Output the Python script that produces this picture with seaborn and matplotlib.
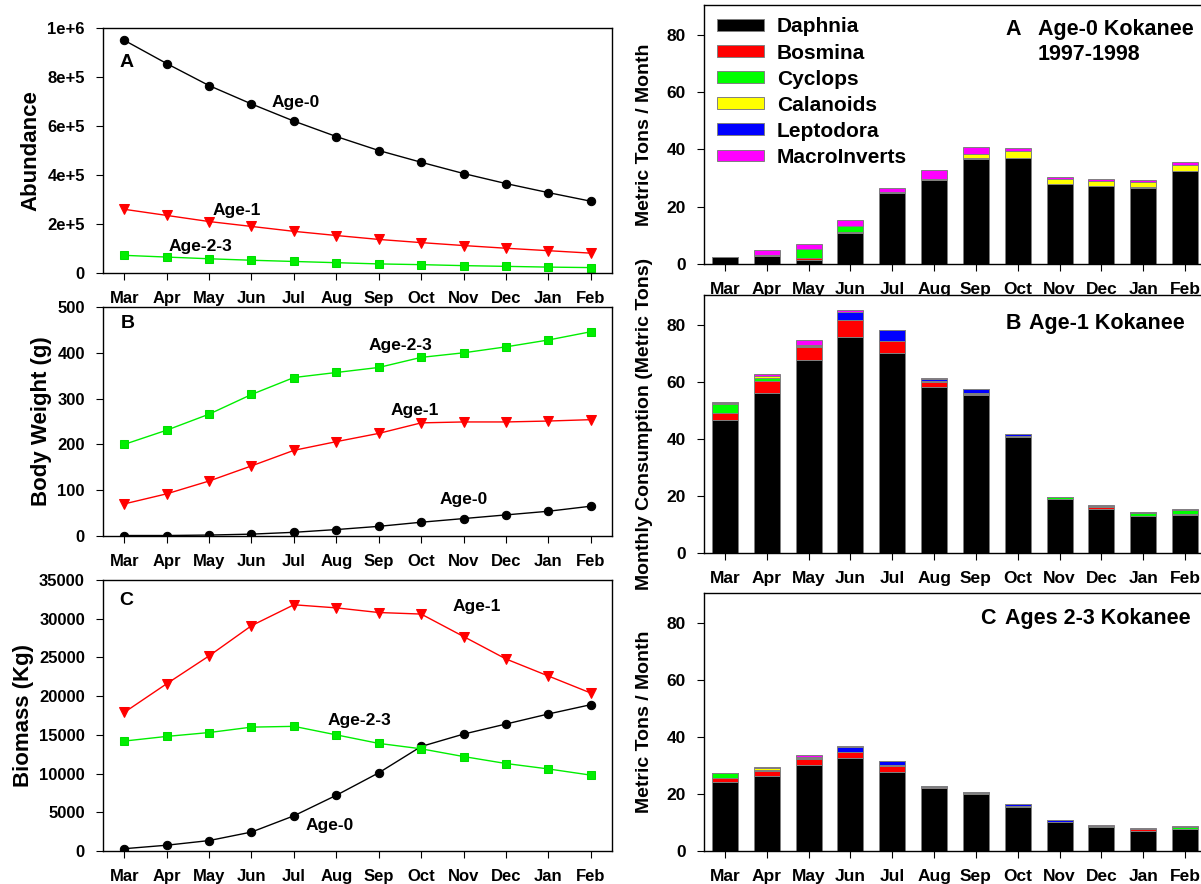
import numpy as np
import matplotlib
matplotlib.use("Agg")
import matplotlib.pyplot as plt
import seaborn as sns

sns.set_style("ticks")
plt.rcParams['font.family'] = ['Liberation Sans', 'DejaVu Sans']
plt.rcParams['font.weight'] = 'bold'
plt.rcParams['axes.labelweight'] = 'bold'
plt.rcParams['axes.linewidth'] = 1.0
for key in ['text.color', 'axes.labelcolor', 'xtick.color', 'ytick.color', 'axes.edgecolor']:
    plt.rcParams[key] = 'black'

months = ["Mar", "Apr", "May", "Jun", "Jul", "Aug", "Sep", "Oct", "Nov", "Dec", "Jan", "Feb"]

# abundance (number of fish)
abund_age0 = [950000, 855000, 765000, 690000, 620000, 557000, 500000, 452000, 406000, 365000, 328000, 293000]
abund_age1 = [260000, 235000, 210000, 190000, 170000, 153000, 137000, 124000, 112000, 101000, 91000, 81000]
abund_age23 = [72000, 65000, 58000, 52000, 47000, 42000, 37000, 34000, 30000, 27000, 24000, 22000]

# body weight (g)
wt_age0 = [1, 1, 2, 4, 8, 14, 21, 30, 38, 46, 54, 65]
wt_age1 = [70, 92, 120, 153, 187, 206, 224, 247, 249, 249, 251, 254]
wt_age23 = [200, 231, 266, 309, 346, 357, 368, 390, 400, 413, 428, 446]

# biomass (kg)
bio_age0 = [300, 750, 1350, 2450, 4550, 7200, 10100, 13500, 15100, 16400, 17700, 18900]
bio_age1 = [17900, 21600, 25200, 29100, 31800, 31400, 30800, 30600, 27700, 24800, 22600, 20400]
bio_age23 = [14200, 14800, 15300, 16000, 16100, 15000, 13900, 13200, 12200, 11300, 10600, 9800]

prey = ["Daphnia", "Bosmina", "Cyclops", "Calanoids", "Leptodora", "MacroInverts"]
prey_colors = ["#000000", "#FF0000", "#00FF00", "#FFFF00", "#0000FF", "#FF00FF"]

# monthly consumption (metric tons), age-0
cons0_daphnia = [2.3, 2.9, 1.4, 10.7, 24.7, 29.4, 36.7, 37.0, 27.9, 27.2, 26.6, 32.4]
cons0_bosmina = [0.0, 0.0, 0.6, 0.3, 0.0, 0.0, 0.0, 0.0, 0.0, 0.0, 0.0, 0.0]
cons0_cyclops = [0.0, 0.0, 3.1, 2.4, 0.0, 0.0, 0.3, 0.0, 0.0, 0.0, 0.3, 0.0]
cons0_calanoids = [0.0, 0.1, 0.0, 0.0, 0.0, 0.4, 1.5, 2.4, 1.8, 1.8, 1.6, 2.3]
cons0_leptodora = [0.0, 0.0, 0.0, 0.0, 0.3, 0.0, 0.0, 0.0, 0.0, 0.0, 0.0, 0.0]
cons0_macro = [0.3, 1.8, 1.8, 1.8, 1.6, 2.9, 2.2, 0.9, 0.8, 0.8, 0.7, 0.9]

# age-1
cons1_daphnia = [46.7, 56.1, 67.5, 75.8, 70.0, 58.2, 55.5, 40.6, 18.9, 15.5, 13.1, 13.3]
cons1_bosmina = [2.3, 4.1, 4.8, 5.7, 4.3, 1.7, 0.3, 0.0, 0.0, 0.6, 0.0, 0.5]
cons1_cyclops = [3.1, 1.0, 0.4, 0.2, 0.0, 0.0, 0.2, 0.0, 0.6, 0.4, 0.8, 1.2]
cons1_calanoids = [0.4, 0.7, 0.3, 0.0, 0.0, 0.4, 0.0, 0.4, 0.0, 0.0, 0.0, 0.0]
cons1_leptodora = [0.0, 0.0, 0.0, 2.7, 3.7, 0.7, 1.3, 0.7, 0.3, 0.0, 0.5, 0.0]
cons1_macro = [0.3, 0.7, 1.8, 0.9, 0.0, 0.3, 0.0, 0.0, 0.0, 0.3, 0.0, 0.3]

# ages 2-3
cons23_daphnia = [24.1, 26.2, 30.0, 32.7, 27.8, 22.0, 19.9, 15.5, 10.0, 8.3, 7.0, 7.6]
cons23_bosmina = [1.4, 2.0, 2.1, 2.1, 2.0, 0.4, 0.0, 0.0, 0.2, 0.0, 0.6, 0.0]
cons23_cyclops = [1.7, 0.2, 0.5, 0.0, 0.0, 0.0, 0.0, 0.4, 0.0, 0.5, 0.0, 0.7]
cons23_calanoids = [0.3, 0.7, 0.2, 0.0, 0.2, 0.0, 0.4, 0.0, 0.0, 0.0, 0.0, 0.0]
cons23_leptodora = [0.0, 0.0, 0.0, 1.8, 1.4, 0.5, 0.5, 0.4, 0.5, 0.0, 0.0, 0.0]
cons23_macro = [0.0, 0.4, 0.7, 0.3, 0.0, 0.0, 0.0, 0.0, 0.0, 0.4, 0.3, 0.3]

cons_age0 = [cons0_daphnia, cons0_bosmina, cons0_cyclops, cons0_calanoids, cons0_leptodora, cons0_macro]
cons_age1 = [cons1_daphnia, cons1_bosmina, cons1_cyclops, cons1_calanoids, cons1_leptodora, cons1_macro]
cons_age23 = [cons23_daphnia, cons23_bosmina, cons23_cyclops, cons23_calanoids, cons23_leptodora, cons23_macro]

xpos = np.arange(len(months))
fig = plt.figure(figsize=(12.01, 8.84), dpi=100)

# left column: line panels
axL = [fig.add_axes([0.0858, 0.6912, 0.4238, 0.2771]),
       fig.add_axes([0.0858, 0.3937, 0.4238, 0.2590]),
       fig.add_axes([0.0858, 0.0373, 0.4238, 0.3066])]


def line_panel(ax, y0, y1, y23):
    sns.lineplot(x=xpos, y=y0, ax=ax, color="black", marker="o", markersize=6,
                 markeredgecolor="black", linewidth=1)
    sns.lineplot(x=xpos, y=y1, ax=ax, color="red", marker="v", markersize=7,
                 markeredgecolor="red", linewidth=1)
    sns.lineplot(x=xpos, y=y23, ax=ax, color="#00EE00", marker="s", markersize=5.5,
                 markeredgecolor="#00DD00", linewidth=1)
    ax.set_xlim(-0.5, 11.5)
    ax.set_xticks(xpos)
    ax.set_xticklabels(months)
    ax.tick_params(labelsize=12, length=5, pad=8)


line_panel(axL[0], abund_age0, abund_age1, abund_age23)
axL[0].set_ylim(0, 1e6)
axL[0].set_yticks([0, 2e5, 4e5, 6e5, 8e5, 1e6])
axL[0].set_yticklabels(["0", "2e+5", "4e+5", "6e+5", "8e+5", "1e+6"])
axL[0].set_ylabel("Abundance", fontsize=16)
axL[0].text(0.05, 8.6e5, "A", fontsize=14, ha="center", va="center")
axL[0].text(4.05, 6.95e5, "Age-0", fontsize=12.5, ha="center", va="center")
axL[0].text(2.65, 2.55e5, "Age-1", fontsize=12.5, ha="center", va="center")
axL[0].text(1.8, 1.07e5, "Age-2-3", fontsize=12.5, ha="center", va="center")

line_panel(axL[1], wt_age0, wt_age1, wt_age23)
axL[1].set_ylim(0, 500)
axL[1].set_yticks([0, 100, 200, 300, 400, 500])
axL[1].set_ylabel("Body Weight (g)", fontsize=16)
axL[1].text(0.08, 465, "B", fontsize=14, ha="center", va="center")
axL[1].text(6.5, 415, "Age-2-3", fontsize=12.5, ha="center", va="center")
axL[1].text(6.85, 275, "Age-1", fontsize=12.5, ha="center", va="center")
axL[1].text(8.0, 79, "Age-0", fontsize=12.5, ha="center", va="center")

line_panel(axL[2], bio_age0, bio_age1, bio_age23)
axL[2].set_ylim(0, 35000)
axL[2].set_yticks(np.arange(0, 35001, 5000))
axL[2].set_ylabel("Biomass (Kg)", fontsize=16)
axL[2].text(0.05, 32400, "C", fontsize=14, ha="center", va="center")
axL[2].text(8.3, 31600, "Age-1", fontsize=12.5, ha="center", va="center")
axL[2].text(5.55, 16900, "Age-2-3", fontsize=12.5, ha="center", va="center")
axL[2].text(4.85, 3350, "Age-0", fontsize=12.5, ha="center", va="center")

# right column: stacked consumption bars
axR = [fig.add_axes([0.5862, 0.7014, 0.418, 0.2930]),
       fig.add_axes([0.5862, 0.3744, 0.418, 0.2919]),
       fig.add_axes([0.5862, 0.0373, 0.418, 0.2919])]


def bar_panel(ax, stacks):
    bottom = np.zeros(len(months))
    for name, col, vals in zip(prey, prey_colors, stacks):
        vals = np.array(vals, dtype=float)
        sns.barplot(x=months, y=vals, bottom=bottom, color=col, width=0.62,
                    edgecolor="#808080", linewidth=0.7, ax=ax, label=name,
                    saturation=1)
        bottom = bottom + vals
    ax.set_xlim(-0.5, 11.5)
    ax.set_ylim(0, 90.4)
    ax.set_yticks([0, 20, 40, 60, 80])
    ax.tick_params(labelsize=12.5, length=5, pad=8)
    ax.set_xlabel("")
    if ax.get_legend() is not None:
        ax.get_legend().remove()


bar_panel(axR[0], cons_age0)
bar_panel(axR[1], cons_age1)
bar_panel(axR[2], cons_age23)

narrow = ['Liberation Sans Narrow', 'Liberation Sans', 'DejaVu Sans']
axR[0].set_ylabel("Metric Tons / Month", fontsize=14, family=narrow, labelpad=10)
axR[1].set_ylabel("Monthly Consumption (Metric Tons)", fontsize=14, family=narrow, labelpad=10)
axR[2].set_ylabel("Metric Tons / Month", fontsize=14, family=narrow, labelpad=10)

handles, labels = axR[0].get_legend_handles_labels()
axR[0].legend(handles, labels, loc="upper left", bbox_to_anchor=(0.0, 1.0),
              frameon=False, fontsize=15, handlelength=2.3, handleheight=0.5,
              handletextpad=0.6, labelspacing=0.34, borderaxespad=0.2)

axR[0].text(0.60, 0.907, "A", transform=axR[0].transAxes, fontsize=15.5, va="center")
axR[0].text(0.665, 0.907, "Age-0 Kokanee", transform=axR[0].transAxes, fontsize=15.5, va="center")
axR[0].text(0.665, 0.807, "1997-1998", transform=axR[0].transAxes, fontsize=15.5, va="center")
axR[1].text(0.60, 0.891, "B", transform=axR[1].transAxes, fontsize=15.5, va="center")
axR[1].text(0.648, 0.891, "Age-1 Kokanee", transform=axR[1].transAxes, fontsize=15.5, va="center")
axR[2].text(0.550, 0.903, "C", transform=axR[2].transAxes, fontsize=15.5, va="center")
axR[2].text(0.600, 0.903, "Ages 2-3 Kokanee", transform=axR[2].transAxes, fontsize=15.5, va="center")

fig.savefig("out.png", dpi=100)
